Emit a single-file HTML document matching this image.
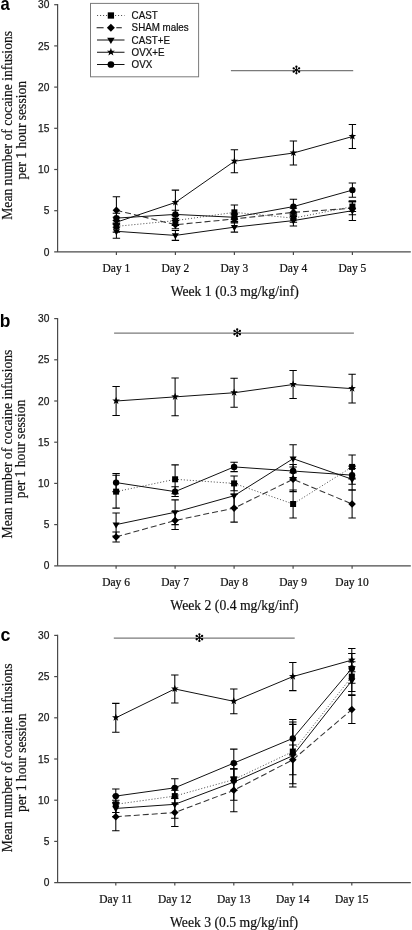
<!DOCTYPE html>
<html><head><meta charset="utf-8"><style>
html,body{margin:0;padding:0;background:#fff;width:412px;height:930px;overflow:hidden;font-family:"Liberation Sans",sans-serif;}
.wrap{position:relative;width:412px;height:930px;filter:grayscale(1);}
</style></head><body><div class="wrap">
<svg width="412" height="930" viewBox="0 0 412 930" style="position:absolute;left:0;top:0">
<g stroke="#4a4a4a" stroke-width="1.2" fill="none">
<line x1="57.6" y1="4.10" x2="57.6" y2="251.90"/>
<line x1="54.2" y1="251.90" x2="410.8" y2="251.90"/>
<line x1="54.2" y1="210.70" x2="57.6" y2="210.70"/>
<line x1="54.2" y1="169.50" x2="57.6" y2="169.50"/>
<line x1="54.2" y1="128.30" x2="57.6" y2="128.30"/>
<line x1="54.2" y1="87.10" x2="57.6" y2="87.10"/>
<line x1="54.2" y1="45.90" x2="57.6" y2="45.90"/>
<line x1="54.2" y1="4.70" x2="57.6" y2="4.70"/>
<line x1="116.40" y1="251.90" x2="116.40" y2="254.90"/>
<line x1="175.40" y1="251.90" x2="175.40" y2="254.90"/>
<line x1="234.40" y1="251.90" x2="234.40" y2="254.90"/>
<line x1="293.40" y1="251.90" x2="293.40" y2="254.90"/>
<line x1="352.40" y1="251.90" x2="352.40" y2="254.90"/>
</g>
<text transform="translate(49.40 255.55) scale(1 1.0)" font-family="Liberation Sans" font-size="10.2" fill="#1a1a1a" text-anchor="end" stroke="#1a1a1a" stroke-width="0.25">0</text>
<text transform="translate(49.40 214.35) scale(1 1.0)" font-family="Liberation Sans" font-size="10.2" fill="#1a1a1a" text-anchor="end" stroke="#1a1a1a" stroke-width="0.25">5</text>
<text transform="translate(49.40 173.15) scale(1 1.0)" font-family="Liberation Sans" font-size="10.2" fill="#1a1a1a" text-anchor="end" stroke="#1a1a1a" stroke-width="0.25">10</text>
<text transform="translate(49.40 131.95) scale(1 1.0)" font-family="Liberation Sans" font-size="10.2" fill="#1a1a1a" text-anchor="end" stroke="#1a1a1a" stroke-width="0.25">15</text>
<text transform="translate(49.40 90.75) scale(1 1.0)" font-family="Liberation Sans" font-size="10.2" fill="#1a1a1a" text-anchor="end" stroke="#1a1a1a" stroke-width="0.25">20</text>
<text transform="translate(49.40 49.55) scale(1 1.0)" font-family="Liberation Sans" font-size="10.2" fill="#1a1a1a" text-anchor="end" stroke="#1a1a1a" stroke-width="0.25">25</text>
<text transform="translate(49.40 8.35) scale(1 1.0)" font-family="Liberation Sans" font-size="10.2" fill="#1a1a1a" text-anchor="end" stroke="#1a1a1a" stroke-width="0.25">30</text>
<text transform="translate(116.40 271.60) scale(1 1.1)" font-family="Liberation Serif" font-size="11.5" fill="#111" text-anchor="middle" stroke="#111" stroke-width="0.22">Day 1</text>
<text transform="translate(175.40 271.60) scale(1 1.1)" font-family="Liberation Serif" font-size="11.5" fill="#111" text-anchor="middle" stroke="#111" stroke-width="0.22">Day 2</text>
<text transform="translate(234.40 271.60) scale(1 1.1)" font-family="Liberation Serif" font-size="11.5" fill="#111" text-anchor="middle" stroke="#111" stroke-width="0.22">Day 3</text>
<text transform="translate(293.40 271.60) scale(1 1.1)" font-family="Liberation Serif" font-size="11.5" fill="#111" text-anchor="middle" stroke="#111" stroke-width="0.22">Day 4</text>
<text transform="translate(352.40 271.60) scale(1 1.1)" font-family="Liberation Serif" font-size="11.5" fill="#111" text-anchor="middle" stroke="#111" stroke-width="0.22">Day 5</text>
<text transform="translate(234.70 295.80) scale(1 1.07)" font-family="Liberation Serif" font-size="13.7" fill="#111" text-anchor="middle" stroke="#111" stroke-width="0.2">Week 1 (0.3 mg/kg/inf)</text>
<text transform="translate(12.1 125.35) rotate(-90)" font-family="Liberation Serif" font-size="13.6" fill="#111" stroke="#111" stroke-width="0.2" text-anchor="middle">Mean number of cocaine infusions</text>
<text transform="translate(25.6 130.20) rotate(-90)" font-family="Liberation Serif" font-size="13.6" fill="#111" stroke="#111" stroke-width="0.2" text-anchor="middle">per 1 hour session</text>
<text transform="translate(0.40 9.70) scale(1 1.08)" font-family="Liberation Sans" font-size="16.6" fill="#000" text-anchor="start" font-weight="bold">a</text>
<line x1="230.9" y1="70.6" x2="353.2" y2="70.6" stroke="#7a7a7a" stroke-width="1.3"/>
<line x1="296.40" y1="70.00" x2="296.40" y2="66.69" stroke="#000" stroke-width="1.0" stroke-linecap="round"/><circle cx="296.40" cy="66.69" r="1.15" fill="#000"/><line x1="296.40" y1="70.00" x2="299.13" y2="68.35" stroke="#000" stroke-width="1.0" stroke-linecap="round"/><circle cx="299.13" cy="68.35" r="1.15" fill="#000"/><line x1="296.40" y1="70.00" x2="299.13" y2="71.65" stroke="#000" stroke-width="1.0" stroke-linecap="round"/><circle cx="299.13" cy="71.65" r="1.15" fill="#000"/><line x1="296.40" y1="70.00" x2="296.40" y2="73.31" stroke="#000" stroke-width="1.0" stroke-linecap="round"/><circle cx="296.40" cy="73.31" r="1.15" fill="#000"/><line x1="296.40" y1="70.00" x2="293.67" y2="68.35" stroke="#000" stroke-width="1.0" stroke-linecap="round"/><circle cx="293.67" cy="68.35" r="1.15" fill="#000"/><line x1="296.40" y1="70.00" x2="293.67" y2="71.65" stroke="#000" stroke-width="1.0" stroke-linecap="round"/><circle cx="293.67" cy="71.65" r="1.15" fill="#000"/>
<g stroke="#000" stroke-width="1.05" fill="none">
<path d="M116.40 220.59V232.12M112.70 220.59H120.10M112.70 232.12H120.10"/>
<path d="M175.40 215.64V225.53M171.70 215.64H179.10M171.70 225.53H179.10"/>
<path d="M234.40 204.93V219.76M230.70 204.93H238.10M230.70 219.76H238.10"/>
<path d="M293.40 214.00V222.24M289.70 214.00H297.10M289.70 222.24H297.10"/>
<path d="M352.40 201.64V211.52M348.70 201.64H356.10M348.70 211.52H356.10"/>
<path d="M116.40 196.69V223.88M112.70 196.69H120.10M112.70 223.88H120.10"/>
<path d="M175.40 220.59V228.83M171.70 220.59H179.10M171.70 228.83H179.10"/>
<path d="M234.40 214.82V223.06M230.70 214.82H238.10M230.70 223.06H238.10"/>
<path d="M293.40 208.23V216.47M289.70 208.23H297.10M289.70 216.47H297.10"/>
<path d="M352.40 201.64V214.82M348.70 201.64H356.10M348.70 214.82H356.10"/>
<path d="M116.40 224.30V238.30M112.70 224.30H120.10M112.70 238.30H120.10"/>
<path d="M175.40 230.48V240.36M171.70 230.48H179.10M171.70 240.36H179.10"/>
<path d="M234.40 222.24V232.12M230.70 222.24H238.10M230.70 232.12H238.10"/>
<path d="M293.40 215.23V225.94M289.70 215.23H297.10M289.70 225.94H297.10"/>
<path d="M352.40 200.81V220.59M348.70 200.81H356.10M348.70 220.59H356.10"/>
<path d="M116.40 217.29V227.18M112.70 217.29H120.10M112.70 227.18H120.10"/>
<path d="M175.40 190.10V214.82M171.70 190.10H179.10M171.70 214.82H179.10"/>
<path d="M234.40 149.72V172.80M230.70 149.72H238.10M230.70 172.80H238.10"/>
<path d="M293.40 141.07V164.97M289.70 141.07H297.10M289.70 164.97H297.10"/>
<path d="M352.40 124.59V148.49M348.70 124.59H356.10M348.70 148.49H356.10"/>
<path d="M116.40 213.17V223.06M112.70 213.17H120.10M112.70 223.06H120.10"/>
<path d="M175.40 210.29V218.53M171.70 210.29H179.10M171.70 218.53H179.10"/>
<path d="M234.40 213.17V221.41M230.70 213.17H238.10M230.70 221.41H238.10"/>
<path d="M293.40 199.16V214.00M289.70 199.16H297.10M289.70 214.00H297.10"/>
<path d="M352.40 183.01V197.19M348.70 183.01H356.10M348.70 197.19H356.10"/>
</g>
<polyline points="116.40,226.36 175.40,220.59 234.40,212.35 293.40,218.12 352.40,206.58" fill="none" stroke="#555" stroke-width="1.0" stroke-dasharray="1.1 1.9"/>
<polyline points="116.40,210.29 175.40,224.71 234.40,218.94 293.40,212.35 352.40,208.23" fill="none" stroke="#333" stroke-width="1.05" stroke-dasharray="6 3"/>
<polyline points="116.40,231.30 175.40,235.42 234.40,227.18 293.40,220.59 352.40,210.70" fill="none" stroke="#111" stroke-width="1.0"/>
<polyline points="116.40,222.24 175.40,202.46 234.40,161.26 293.40,153.02 352.40,136.54" fill="none" stroke="#111" stroke-width="1.0"/>
<polyline points="116.40,218.12 175.40,214.41 234.40,217.29 293.40,206.58 352.40,190.10" fill="none" stroke="#111" stroke-width="1.0"/>
<g fill="#000">
<rect x="113.40" y="223.36" width="6.00" height="6.00"/>
<rect x="172.40" y="217.59" width="6.00" height="6.00"/>
<rect x="231.40" y="209.35" width="6.00" height="6.00"/>
<rect x="290.40" y="215.12" width="6.00" height="6.00"/>
<rect x="349.40" y="203.58" width="6.00" height="6.00"/>
<path d="M116.40 206.49L120.20 210.29L116.40 214.09L112.60 210.29Z"/>
<path d="M175.40 220.91L179.20 224.71L175.40 228.51L171.60 224.71Z"/>
<path d="M234.40 215.14L238.20 218.94L234.40 222.74L230.60 218.94Z"/>
<path d="M293.40 208.55L297.20 212.35L293.40 216.15L289.60 212.35Z"/>
<path d="M352.40 204.43L356.20 208.23L352.40 212.03L348.60 208.23Z"/>
<path d="M112.85 229.20L119.95 229.20L116.40 235.15Z"/>
<path d="M171.85 233.32L178.95 233.32L175.40 239.27Z"/>
<path d="M230.85 225.08L237.95 225.08L234.40 231.03Z"/>
<path d="M289.85 218.49L296.95 218.49L293.40 224.44Z"/>
<path d="M348.85 208.60L355.95 208.60L352.40 214.55Z"/>
<path d="M116.40 218.04L117.37 220.70L120.20 220.80L117.97 222.55L118.75 225.27L116.40 223.69L114.05 225.27L114.83 222.55L112.60 220.80L115.43 220.70Z"/>
<path d="M175.40 198.26L176.37 200.93L179.20 201.02L176.97 202.77L177.75 205.50L175.40 203.91L173.05 205.50L173.83 202.77L171.60 201.02L174.43 200.93Z"/>
<path d="M234.40 157.06L235.37 159.73L238.20 159.82L235.97 161.57L236.75 164.30L234.40 162.71L232.05 164.30L232.83 161.57L230.60 159.82L233.43 159.73Z"/>
<path d="M293.40 148.82L294.37 151.49L297.20 151.58L294.97 153.33L295.75 156.06L293.40 154.47L291.05 156.06L291.83 153.33L289.60 151.58L292.43 151.49Z"/>
<path d="M352.40 132.34L353.37 135.01L356.20 135.10L353.97 136.85L354.75 139.58L352.40 137.99L350.05 139.58L350.83 136.85L348.60 135.10L351.43 135.01Z"/>
<circle cx="116.40" cy="218.12" r="3.20"/>
<circle cx="175.40" cy="214.41" r="3.20"/>
<circle cx="234.40" cy="217.29" r="3.20"/>
<circle cx="293.40" cy="206.58" r="3.20"/>
<circle cx="352.40" cy="190.10" r="3.20"/>
</g>
<g stroke="#4a4a4a" stroke-width="1.2" fill="none">
<line x1="57.6" y1="318.00" x2="57.6" y2="565.80"/>
<line x1="54.2" y1="565.80" x2="410.8" y2="565.80"/>
<line x1="54.2" y1="524.60" x2="57.6" y2="524.60"/>
<line x1="54.2" y1="483.40" x2="57.6" y2="483.40"/>
<line x1="54.2" y1="442.20" x2="57.6" y2="442.20"/>
<line x1="54.2" y1="401.00" x2="57.6" y2="401.00"/>
<line x1="54.2" y1="359.80" x2="57.6" y2="359.80"/>
<line x1="54.2" y1="318.60" x2="57.6" y2="318.60"/>
<line x1="116.10" y1="565.80" x2="116.10" y2="568.80"/>
<line x1="175.10" y1="565.80" x2="175.10" y2="568.80"/>
<line x1="234.10" y1="565.80" x2="234.10" y2="568.80"/>
<line x1="293.10" y1="565.80" x2="293.10" y2="568.80"/>
<line x1="352.10" y1="565.80" x2="352.10" y2="568.80"/>
</g>
<text transform="translate(49.40 569.45) scale(1 1.0)" font-family="Liberation Sans" font-size="10.2" fill="#1a1a1a" text-anchor="end" stroke="#1a1a1a" stroke-width="0.25">0</text>
<text transform="translate(49.40 528.25) scale(1 1.0)" font-family="Liberation Sans" font-size="10.2" fill="#1a1a1a" text-anchor="end" stroke="#1a1a1a" stroke-width="0.25">5</text>
<text transform="translate(49.40 487.05) scale(1 1.0)" font-family="Liberation Sans" font-size="10.2" fill="#1a1a1a" text-anchor="end" stroke="#1a1a1a" stroke-width="0.25">10</text>
<text transform="translate(49.40 445.85) scale(1 1.0)" font-family="Liberation Sans" font-size="10.2" fill="#1a1a1a" text-anchor="end" stroke="#1a1a1a" stroke-width="0.25">15</text>
<text transform="translate(49.40 404.65) scale(1 1.0)" font-family="Liberation Sans" font-size="10.2" fill="#1a1a1a" text-anchor="end" stroke="#1a1a1a" stroke-width="0.25">20</text>
<text transform="translate(49.40 363.45) scale(1 1.0)" font-family="Liberation Sans" font-size="10.2" fill="#1a1a1a" text-anchor="end" stroke="#1a1a1a" stroke-width="0.25">25</text>
<text transform="translate(49.40 322.25) scale(1 1.0)" font-family="Liberation Sans" font-size="10.2" fill="#1a1a1a" text-anchor="end" stroke="#1a1a1a" stroke-width="0.25">30</text>
<text transform="translate(116.10 585.50) scale(1 1.1)" font-family="Liberation Serif" font-size="11.5" fill="#111" text-anchor="middle" stroke="#111" stroke-width="0.22">Day 6</text>
<text transform="translate(175.10 585.50) scale(1 1.1)" font-family="Liberation Serif" font-size="11.5" fill="#111" text-anchor="middle" stroke="#111" stroke-width="0.22">Day 7</text>
<text transform="translate(234.10 585.50) scale(1 1.1)" font-family="Liberation Serif" font-size="11.5" fill="#111" text-anchor="middle" stroke="#111" stroke-width="0.22">Day 8</text>
<text transform="translate(293.10 585.50) scale(1 1.1)" font-family="Liberation Serif" font-size="11.5" fill="#111" text-anchor="middle" stroke="#111" stroke-width="0.22">Day 9</text>
<text transform="translate(352.10 585.50) scale(1 1.1)" font-family="Liberation Serif" font-size="11.5" fill="#111" text-anchor="middle" stroke="#111" stroke-width="0.22">Day 10</text>
<text transform="translate(234.40 609.70) scale(1 1.07)" font-family="Liberation Serif" font-size="13.7" fill="#111" text-anchor="middle" stroke="#111" stroke-width="0.2">Week 2 (0.4 mg/kg/inf)</text>
<text transform="translate(11.5 444.05) rotate(-90)" font-family="Liberation Serif" font-size="13.6" fill="#111" stroke="#111" stroke-width="0.2" text-anchor="middle">Mean number of cocaine infusions</text>
<text transform="translate(25.0 448.90) rotate(-90)" font-family="Liberation Serif" font-size="13.6" fill="#111" stroke="#111" stroke-width="0.2" text-anchor="middle">per 1 hour session</text>
<text transform="translate(-0.30 327.40) scale(1 1.08)" font-family="Liberation Sans" font-size="17.4" fill="#000" text-anchor="start" font-weight="bold">b</text>
<line x1="114.1" y1="333.2" x2="353.9" y2="333.2" stroke="#7a7a7a" stroke-width="1.3"/>
<line x1="237.20" y1="332.60" x2="237.20" y2="329.29" stroke="#000" stroke-width="1.0" stroke-linecap="round"/><circle cx="237.20" cy="329.29" r="1.15" fill="#000"/><line x1="237.20" y1="332.60" x2="239.93" y2="330.95" stroke="#000" stroke-width="1.0" stroke-linecap="round"/><circle cx="239.93" cy="330.95" r="1.15" fill="#000"/><line x1="237.20" y1="332.60" x2="239.93" y2="334.25" stroke="#000" stroke-width="1.0" stroke-linecap="round"/><circle cx="239.93" cy="334.25" r="1.15" fill="#000"/><line x1="237.20" y1="332.60" x2="237.20" y2="335.91" stroke="#000" stroke-width="1.0" stroke-linecap="round"/><circle cx="237.20" cy="335.91" r="1.15" fill="#000"/><line x1="237.20" y1="332.60" x2="234.47" y2="330.95" stroke="#000" stroke-width="1.0" stroke-linecap="round"/><circle cx="234.47" cy="330.95" r="1.15" fill="#000"/><line x1="237.20" y1="332.60" x2="234.47" y2="334.25" stroke="#000" stroke-width="1.0" stroke-linecap="round"/><circle cx="234.47" cy="334.25" r="1.15" fill="#000"/>
<g stroke="#000" stroke-width="1.05" fill="none">
<path d="M116.10 475.16V508.12M112.40 475.16H119.80M112.40 508.12H119.80"/>
<path d="M175.10 464.86V493.70M171.40 464.86H178.80M171.40 493.70H178.80"/>
<path d="M234.10 475.98V490.82M230.40 475.98H237.80M230.40 490.82H237.80"/>
<path d="M293.10 489.99V518.01M289.40 489.99H296.80M289.40 518.01H296.80"/>
<path d="M352.10 454.97V478.87M348.40 454.97H355.80M348.40 478.87H355.80"/>
<path d="M116.10 532.02V541.90M112.40 532.02H119.80M112.40 541.90H119.80"/>
<path d="M175.10 511.42V529.54M171.40 511.42H178.80M171.40 529.54H178.80"/>
<path d="M234.10 494.11V522.13M230.40 494.11H237.80M230.40 522.13H237.80"/>
<path d="M293.10 466.92V491.64M289.40 466.92H296.80M289.40 491.64H296.80"/>
<path d="M352.10 489.99V518.01M348.40 489.99H355.80M348.40 518.01H355.80"/>
<path d="M116.10 513.06V536.14M112.40 513.06H119.80M112.40 536.14H119.80"/>
<path d="M175.10 499.88V524.60M171.40 499.88H178.80M171.40 524.60H178.80"/>
<path d="M234.10 483.40V508.12M230.40 483.40H237.80M230.40 508.12H237.80"/>
<path d="M293.10 444.67V472.69M289.40 444.67H296.80M289.40 472.69H296.80"/>
<path d="M352.10 468.57V489.99M348.40 468.57H355.80M348.40 489.99H355.80"/>
<path d="M116.10 386.58V415.42M112.40 386.58H119.80M112.40 415.42H119.80"/>
<path d="M175.10 377.93V415.83M171.40 377.93H178.80M171.40 415.83H178.80"/>
<path d="M234.10 378.34V407.18M230.40 378.34H237.80M230.40 407.18H237.80"/>
<path d="M293.10 370.51V398.53M289.40 370.51H296.80M289.40 398.53H296.80"/>
<path d="M352.10 374.22V403.06M348.40 374.22H355.80M348.40 403.06H355.80"/>
<path d="M116.10 473.51V491.64M112.40 473.51H119.80M112.40 491.64H119.80"/>
<path d="M175.10 486.70V496.58M171.40 486.70H178.80M171.40 496.58H178.80"/>
<path d="M234.10 462.22V471.62M230.40 462.22H237.80M230.40 471.62H237.80"/>
<path d="M293.10 464.45V477.63M289.40 464.45H296.80M289.40 477.63H296.80"/>
<path d="M352.10 466.10V484.22M348.40 466.10H355.80M348.40 484.22H355.80"/>
</g>
<polyline points="116.10,491.64 175.10,479.28 234.10,483.40 293.10,504.00 352.10,466.92" fill="none" stroke="#555" stroke-width="1.0" stroke-dasharray="1.1 1.9"/>
<polyline points="116.10,536.96 175.10,520.48 234.10,508.12 293.10,479.28 352.10,504.00" fill="none" stroke="#333" stroke-width="1.05" stroke-dasharray="6 3"/>
<polyline points="116.10,524.60 175.10,512.24 234.10,495.76 293.10,458.68 352.10,479.28" fill="none" stroke="#111" stroke-width="1.0"/>
<polyline points="116.10,401.00 175.10,396.88 234.10,392.76 293.10,384.52 352.10,388.64" fill="none" stroke="#111" stroke-width="1.0"/>
<polyline points="116.10,482.58 175.10,491.64 234.10,466.92 293.10,471.04 352.10,475.16" fill="none" stroke="#111" stroke-width="1.0"/>
<g fill="#000">
<rect x="113.10" y="488.64" width="6.00" height="6.00"/>
<rect x="172.10" y="476.28" width="6.00" height="6.00"/>
<rect x="231.10" y="480.40" width="6.00" height="6.00"/>
<rect x="290.10" y="501.00" width="6.00" height="6.00"/>
<rect x="349.10" y="463.92" width="6.00" height="6.00"/>
<path d="M116.10 533.16L119.90 536.96L116.10 540.76L112.30 536.96Z"/>
<path d="M175.10 516.68L178.90 520.48L175.10 524.28L171.30 520.48Z"/>
<path d="M234.10 504.32L237.90 508.12L234.10 511.92L230.30 508.12Z"/>
<path d="M293.10 475.48L296.90 479.28L293.10 483.08L289.30 479.28Z"/>
<path d="M352.10 500.20L355.90 504.00L352.10 507.80L348.30 504.00Z"/>
<path d="M112.55 522.50L119.65 522.50L116.10 528.45Z"/>
<path d="M171.55 510.14L178.65 510.14L175.10 516.09Z"/>
<path d="M230.55 493.66L237.65 493.66L234.10 499.61Z"/>
<path d="M289.55 456.58L296.65 456.58L293.10 462.53Z"/>
<path d="M348.55 477.18L355.65 477.18L352.10 483.13Z"/>
<path d="M116.10 396.80L117.07 399.47L119.90 399.56L117.67 401.31L118.45 404.04L116.10 402.45L113.75 404.04L114.53 401.31L112.30 399.56L115.13 399.47Z"/>
<path d="M175.10 392.68L176.07 395.35L178.90 395.44L176.67 397.19L177.45 399.92L175.10 398.33L172.75 399.92L173.53 397.19L171.30 395.44L174.13 395.35Z"/>
<path d="M234.10 388.56L235.07 391.23L237.90 391.32L235.67 393.07L236.45 395.80L234.10 394.21L231.75 395.80L232.53 393.07L230.30 391.32L233.13 391.23Z"/>
<path d="M293.10 380.32L294.07 382.99L296.90 383.08L294.67 384.83L295.45 387.56L293.10 385.97L290.75 387.56L291.53 384.83L289.30 383.08L292.13 382.99Z"/>
<path d="M352.10 384.44L353.07 387.11L355.90 387.20L353.67 388.95L354.45 391.68L352.10 390.09L349.75 391.68L350.53 388.95L348.30 387.20L351.13 387.11Z"/>
<circle cx="116.10" cy="482.58" r="3.20"/>
<circle cx="175.10" cy="491.64" r="3.20"/>
<circle cx="234.10" cy="466.92" r="3.20"/>
<circle cx="293.10" cy="471.04" r="3.20"/>
<circle cx="352.10" cy="475.16" r="3.20"/>
</g>
<g stroke="#4a4a4a" stroke-width="1.2" fill="none">
<line x1="57.6" y1="634.80" x2="57.6" y2="882.60"/>
<line x1="54.2" y1="882.60" x2="410.8" y2="882.60"/>
<line x1="54.2" y1="841.40" x2="57.6" y2="841.40"/>
<line x1="54.2" y1="800.20" x2="57.6" y2="800.20"/>
<line x1="54.2" y1="759.00" x2="57.6" y2="759.00"/>
<line x1="54.2" y1="717.80" x2="57.6" y2="717.80"/>
<line x1="54.2" y1="676.60" x2="57.6" y2="676.60"/>
<line x1="54.2" y1="635.40" x2="57.6" y2="635.40"/>
<line x1="115.80" y1="882.60" x2="115.80" y2="885.60"/>
<line x1="174.80" y1="882.60" x2="174.80" y2="885.60"/>
<line x1="233.80" y1="882.60" x2="233.80" y2="885.60"/>
<line x1="292.80" y1="882.60" x2="292.80" y2="885.60"/>
<line x1="351.80" y1="882.60" x2="351.80" y2="885.60"/>
</g>
<text transform="translate(49.40 886.25) scale(1 1.0)" font-family="Liberation Sans" font-size="10.2" fill="#1a1a1a" text-anchor="end" stroke="#1a1a1a" stroke-width="0.25">0</text>
<text transform="translate(49.40 845.05) scale(1 1.0)" font-family="Liberation Sans" font-size="10.2" fill="#1a1a1a" text-anchor="end" stroke="#1a1a1a" stroke-width="0.25">5</text>
<text transform="translate(49.40 803.85) scale(1 1.0)" font-family="Liberation Sans" font-size="10.2" fill="#1a1a1a" text-anchor="end" stroke="#1a1a1a" stroke-width="0.25">10</text>
<text transform="translate(49.40 762.65) scale(1 1.0)" font-family="Liberation Sans" font-size="10.2" fill="#1a1a1a" text-anchor="end" stroke="#1a1a1a" stroke-width="0.25">15</text>
<text transform="translate(49.40 721.45) scale(1 1.0)" font-family="Liberation Sans" font-size="10.2" fill="#1a1a1a" text-anchor="end" stroke="#1a1a1a" stroke-width="0.25">20</text>
<text transform="translate(49.40 680.25) scale(1 1.0)" font-family="Liberation Sans" font-size="10.2" fill="#1a1a1a" text-anchor="end" stroke="#1a1a1a" stroke-width="0.25">25</text>
<text transform="translate(49.40 639.05) scale(1 1.0)" font-family="Liberation Sans" font-size="10.2" fill="#1a1a1a" text-anchor="end" stroke="#1a1a1a" stroke-width="0.25">30</text>
<text transform="translate(115.80 903.40) scale(1 1.1)" font-family="Liberation Serif" font-size="11.5" fill="#111" text-anchor="middle" stroke="#111" stroke-width="0.22">Day 11</text>
<text transform="translate(174.80 903.40) scale(1 1.1)" font-family="Liberation Serif" font-size="11.5" fill="#111" text-anchor="middle" stroke="#111" stroke-width="0.22">Day 12</text>
<text transform="translate(233.80 903.40) scale(1 1.1)" font-family="Liberation Serif" font-size="11.5" fill="#111" text-anchor="middle" stroke="#111" stroke-width="0.22">Day 13</text>
<text transform="translate(292.80 903.40) scale(1 1.1)" font-family="Liberation Serif" font-size="11.5" fill="#111" text-anchor="middle" stroke="#111" stroke-width="0.22">Day 14</text>
<text transform="translate(351.80 903.40) scale(1 1.1)" font-family="Liberation Serif" font-size="11.5" fill="#111" text-anchor="middle" stroke="#111" stroke-width="0.22">Day 15</text>
<text transform="translate(234.10 926.80) scale(1 1.07)" font-family="Liberation Serif" font-size="13.7" fill="#111" text-anchor="middle" stroke="#111" stroke-width="0.2">Week 3 (0.5 mg/kg/inf)</text>
<text transform="translate(11.7 757.95) rotate(-90)" font-family="Liberation Serif" font-size="13.6" fill="#111" stroke="#111" stroke-width="0.2" text-anchor="middle">Mean number of cocaine infusions</text>
<text transform="translate(25.7 762.85) rotate(-90)" font-family="Liberation Serif" font-size="13.6" fill="#111" stroke="#111" stroke-width="0.2" text-anchor="middle">per 1 hour session</text>
<text transform="translate(0.50 640.70) scale(1 1.08)" font-family="Liberation Sans" font-size="17.8" fill="#000" text-anchor="start" font-weight="bold">c</text>
<line x1="113.8" y1="638.2" x2="294.7" y2="638.2" stroke="#7a7a7a" stroke-width="1.3"/>
<line x1="199.40" y1="637.60" x2="199.40" y2="634.29" stroke="#000" stroke-width="1.0" stroke-linecap="round"/><circle cx="199.40" cy="634.29" r="1.15" fill="#000"/><line x1="199.40" y1="637.60" x2="202.13" y2="635.95" stroke="#000" stroke-width="1.0" stroke-linecap="round"/><circle cx="202.13" cy="635.95" r="1.15" fill="#000"/><line x1="199.40" y1="637.60" x2="202.13" y2="639.25" stroke="#000" stroke-width="1.0" stroke-linecap="round"/><circle cx="202.13" cy="639.25" r="1.15" fill="#000"/><line x1="199.40" y1="637.60" x2="199.40" y2="640.91" stroke="#000" stroke-width="1.0" stroke-linecap="round"/><circle cx="199.40" cy="640.91" r="1.15" fill="#000"/><line x1="199.40" y1="637.60" x2="196.67" y2="635.95" stroke="#000" stroke-width="1.0" stroke-linecap="round"/><circle cx="196.67" cy="635.95" r="1.15" fill="#000"/><line x1="199.40" y1="637.60" x2="196.67" y2="639.25" stroke="#000" stroke-width="1.0" stroke-linecap="round"/><circle cx="196.67" cy="639.25" r="1.15" fill="#000"/>
<g stroke="#000" stroke-width="1.05" fill="none">
<path d="M115.80 796.08V812.56M112.10 796.08H119.50M112.10 812.56H119.50"/>
<path d="M174.80 787.84V804.32M171.10 787.84H178.50M171.10 804.32H178.50"/>
<path d="M233.80 768.89V790.31M230.10 768.89H237.50M230.10 790.31H237.50"/>
<path d="M292.80 719.45V783.72M289.10 719.45H296.50M289.10 783.72H296.50"/>
<path d="M351.80 661.77V691.43M348.10 661.77H355.50M348.10 691.43H355.50"/>
<path d="M115.80 802.67V830.69M112.10 802.67H119.50M112.10 830.69H119.50"/>
<path d="M174.80 798.55V826.57M171.10 798.55H178.50M171.10 826.57H178.50"/>
<path d="M233.80 768.89V811.74M230.10 768.89H237.50M230.10 811.74H237.50"/>
<path d="M292.80 744.99V774.66M289.10 744.99H296.50M289.10 774.66H296.50"/>
<path d="M351.80 695.55V723.57M348.10 695.55H355.50M348.10 723.57H355.50"/>
<path d="M115.80 800.20V816.68M112.10 800.20H119.50M112.10 816.68H119.50"/>
<path d="M174.80 790.31V818.33M171.10 790.31H178.50M171.10 818.33H178.50"/>
<path d="M233.80 763.94V800.20M230.10 763.94H237.50M230.10 800.20H237.50"/>
<path d="M292.80 724.39V787.02M289.10 724.39H296.50M289.10 787.02H296.50"/>
<path d="M351.80 666.71V694.73M348.10 666.71H355.50M348.10 694.73H355.50"/>
<path d="M115.80 703.38V732.22M112.10 703.38H119.50M112.10 732.22H119.50"/>
<path d="M174.80 674.95V702.97M171.10 674.95H178.50M171.10 702.97H178.50"/>
<path d="M233.80 688.96V713.68M230.10 688.96H237.50M230.10 713.68H237.50"/>
<path d="M292.80 662.59V690.61M289.10 662.59H296.50M289.10 690.61H296.50"/>
<path d="M351.80 648.58V671.66M348.10 648.58H355.50M348.10 671.66H355.50"/>
<path d="M115.80 789.08V803.08M112.10 789.08H119.50M112.10 803.08H119.50"/>
<path d="M174.80 778.78V796.90M171.10 778.78H178.50M171.10 796.90H178.50"/>
<path d="M233.80 749.11V777.13M230.10 749.11H237.50M230.10 777.13H237.50"/>
<path d="M292.80 721.92V754.88M289.10 721.92H296.50M289.10 754.88H296.50"/>
<path d="M351.80 653.53V683.19M348.10 653.53H355.50M348.10 683.19H355.50"/>
</g>
<polyline points="115.80,804.32 174.80,796.08 233.80,779.60 292.80,751.58 351.80,676.60" fill="none" stroke="#555" stroke-width="1.0" stroke-dasharray="1.1 1.9"/>
<polyline points="115.80,816.68 174.80,812.56 233.80,790.31 292.80,759.82 351.80,709.56" fill="none" stroke="#333" stroke-width="1.05" stroke-dasharray="6 3"/>
<polyline points="115.80,808.44 174.80,804.32 233.80,782.07 292.80,755.70 351.80,680.72" fill="none" stroke="#111" stroke-width="1.0"/>
<polyline points="115.80,717.80 174.80,688.96 233.80,701.32 292.80,676.60 351.80,660.12" fill="none" stroke="#111" stroke-width="1.0"/>
<polyline points="115.80,796.08 174.80,787.84 233.80,763.12 292.80,738.40 351.80,668.36" fill="none" stroke="#111" stroke-width="1.0"/>
<g fill="#000">
<rect x="112.80" y="801.32" width="6.00" height="6.00"/>
<rect x="171.80" y="793.08" width="6.00" height="6.00"/>
<rect x="230.80" y="776.60" width="6.00" height="6.00"/>
<rect x="289.80" y="748.58" width="6.00" height="6.00"/>
<rect x="348.80" y="673.60" width="6.00" height="6.00"/>
<path d="M115.80 812.88L119.60 816.68L115.80 820.48L112.00 816.68Z"/>
<path d="M174.80 808.76L178.60 812.56L174.80 816.36L171.00 812.56Z"/>
<path d="M233.80 786.51L237.60 790.31L233.80 794.11L230.00 790.31Z"/>
<path d="M292.80 756.02L296.60 759.82L292.80 763.62L289.00 759.82Z"/>
<path d="M351.80 705.76L355.60 709.56L351.80 713.36L348.00 709.56Z"/>
<path d="M112.25 806.34L119.35 806.34L115.80 812.29Z"/>
<path d="M171.25 802.22L178.35 802.22L174.80 808.17Z"/>
<path d="M230.25 779.97L237.35 779.97L233.80 785.92Z"/>
<path d="M289.25 753.60L296.35 753.60L292.80 759.55Z"/>
<path d="M348.25 678.62L355.35 678.62L351.80 684.57Z"/>
<path d="M115.80 713.60L116.77 716.27L119.60 716.36L117.37 718.11L118.15 720.84L115.80 719.25L113.45 720.84L114.23 718.11L112.00 716.36L114.83 716.27Z"/>
<path d="M174.80 684.76L175.77 687.43L178.60 687.52L176.37 689.27L177.15 692.00L174.80 690.41L172.45 692.00L173.23 689.27L171.00 687.52L173.83 687.43Z"/>
<path d="M233.80 697.12L234.77 699.79L237.60 699.88L235.37 701.63L236.15 704.36L233.80 702.77L231.45 704.36L232.23 701.63L230.00 699.88L232.83 699.79Z"/>
<path d="M292.80 672.40L293.77 675.07L296.60 675.16L294.37 676.91L295.15 679.64L292.80 678.05L290.45 679.64L291.23 676.91L289.00 675.16L291.83 675.07Z"/>
<path d="M351.80 655.92L352.77 658.59L355.60 658.68L353.37 660.43L354.15 663.16L351.80 661.57L349.45 663.16L350.23 660.43L348.00 658.68L350.83 658.59Z"/>
<circle cx="115.80" cy="796.08" r="3.20"/>
<circle cx="174.80" cy="787.84" r="3.20"/>
<circle cx="233.80" cy="763.12" r="3.20"/>
<circle cx="292.80" cy="738.40" r="3.20"/>
<circle cx="351.80" cy="668.36" r="3.20"/>
</g>
<rect x="90.5" y="3.4" width="108.1" height="73.4" fill="#fff" stroke="#7a7a7a" stroke-width="1"/>
<line x1="97" y1="15.50" x2="124.5" y2="15.50" stroke="#555" stroke-width="1" stroke-dasharray="1.1 1.9"/>
<g fill="#000"><rect x="107.75" y="12.35" width="6.30" height="6.30"/></g>
<text transform="translate(131.60 19.10) scale(1 1.12)" font-family="Liberation Sans" font-size="9.8" fill="#111" text-anchor="start" stroke="#111" stroke-width="0.2">CAST</text>
<path d="M96.6 27.75H103.6M116.3 27.75H121.8" stroke="#111" stroke-width="1.1"/>
<g fill="#000"><path d="M110.90 23.76L114.89 27.75L110.90 31.74L106.91 27.75Z"/></g>
<text transform="translate(131.60 31.35) scale(1 1.12)" font-family="Liberation Sans" font-size="9.8" fill="#111" text-anchor="start" stroke="#111" stroke-width="0.2">SHAM males</text>
<line x1="97" y1="40.00" x2="124.5" y2="40.00" stroke="#111" stroke-width="1"/>
<g fill="#000"><path d="M107.17 37.80L114.63 37.80L110.90 44.04Z"/></g>
<text transform="translate(131.60 43.60) scale(1 1.12)" font-family="Liberation Sans" font-size="9.8" fill="#111" text-anchor="start" stroke="#111" stroke-width="0.2">CAST+E</text>
<line x1="97" y1="52.25" x2="124.5" y2="52.25" stroke="#111" stroke-width="1"/>
<g fill="#000"><path d="M110.90 47.85L111.92 50.65L114.89 50.75L112.55 52.59L113.37 55.45L110.90 53.78L108.43 55.45L109.25 52.59L106.91 50.75L109.88 50.65Z"/></g>
<text transform="translate(131.60 55.85) scale(1 1.12)" font-family="Liberation Sans" font-size="9.8" fill="#111" text-anchor="start" stroke="#111" stroke-width="0.2">OVX+E</text>
<line x1="97" y1="64.50" x2="124.5" y2="64.50" stroke="#111" stroke-width="1"/>
<g fill="#000"><circle cx="110.90" cy="64.50" r="3.36"/></g>
<text transform="translate(131.60 68.10) scale(1 1.12)" font-family="Liberation Sans" font-size="9.8" fill="#111" text-anchor="start" stroke="#111" stroke-width="0.2">OVX</text>
</svg>
</div></body></html>
